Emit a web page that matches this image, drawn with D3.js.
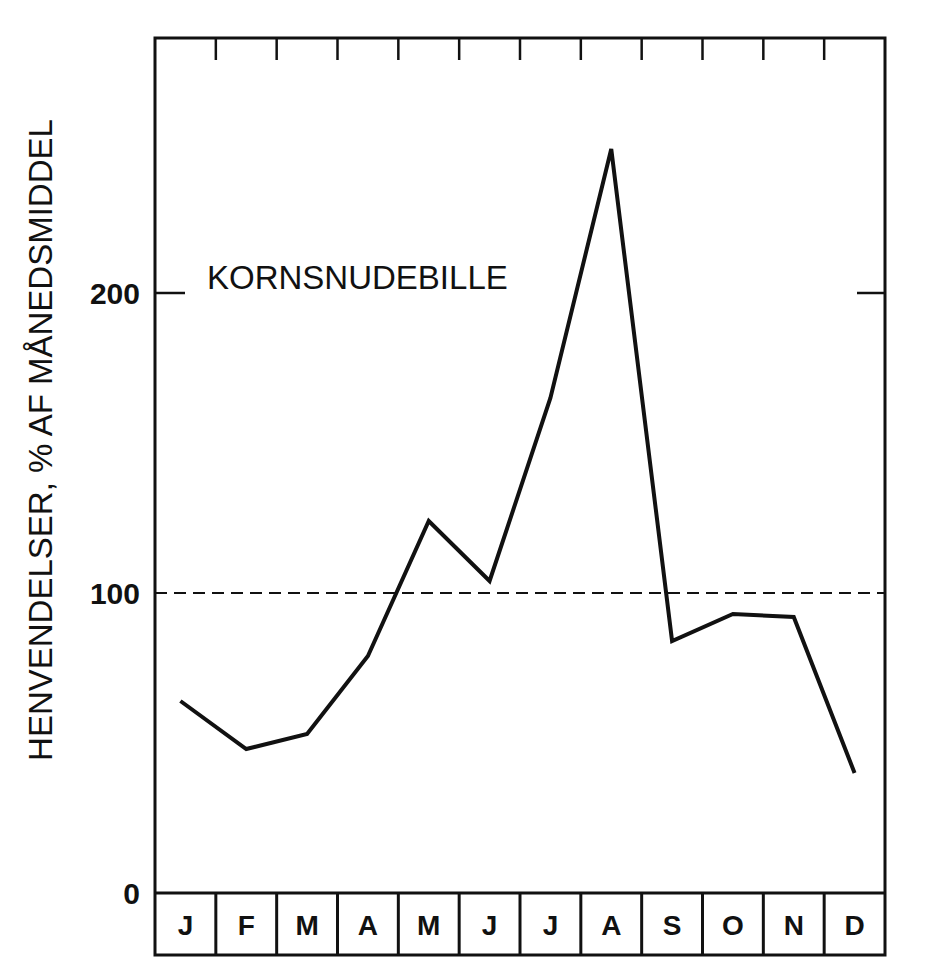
<!DOCTYPE html>
<html>
<head>
<script src="https://cdn.jsdelivr.net/npm/d3@7"></script>
<style>body{margin:0;background:#fff}</style>
</head>
<body>
<script>
let months = ["J","F","M","A","M","J","J","A","S","O","N","D"]
let values = [64, 48, 53, 79, 124, 104, 165, 248, 84, 93, 92, 40]
let yTicks = [0, 100, 200]
let label = "KORNSNUDEBILLE"
let yTitle = "HENVENDELSER, % AF MÅNEDSMIDDEL"

let w = 925, h = 980
let plotLeft = 155, plotRight = 885, plotTop = 38, plotBottom = 893, boxBottom = 955

let svg = d3.select("body").append("svg").attr("width", w).attr("height", h)
let x = d3.scaleBand().domain(d3.range(12)).range([plotLeft, plotRight])
let y = d3.scaleLinear().domain([0, 285]).range([plotBottom, plotTop])
let font = "Liberation Sans, Arial, sans-serif"

// frame
svg.append("rect").attr("x", plotLeft).attr("y", plotTop).attr("width", plotRight-plotLeft).attr("height", boxBottom-plotTop)
   .attr("fill","none").attr("stroke","#111").attr("stroke-width",3)
svg.append("line").attr("x1",plotLeft).attr("x2",plotRight).attr("y1",plotBottom).attr("y2",plotBottom)
   .attr("stroke","#111").attr("stroke-width",3)

// month cells and top ticks
for (let i = 1; i < 12; i++) {
    let xb = x(i)
    svg.append("line").attr("x1",xb).attr("x2",xb).attr("y1",plotBottom).attr("y2",boxBottom)
       .attr("stroke","#111").attr("stroke-width",3)
    svg.append("line").attr("x1",xb).attr("x2",xb).attr("y1",plotTop).attr("y2",plotTop+22)
       .attr("stroke","#111").attr("stroke-width",2.5)
}
svg.selectAll(".mlab").data(months).enter().append("text")
   .attr("x",(d,i)=>x(i)+x.bandwidth()/2).attr("y",(plotBottom+boxBottom)/2+11)
   .attr("text-anchor","middle").attr("font-family",font).attr("font-weight","bold")
   .attr("font-size",28).attr("fill","#111").text(d=>d)

// y ticks
yTicks.forEach(t=>{
    svg.append("text").attr("x",140).attr("y",y(t)+11).attr("text-anchor","end")
       .attr("font-family",font).attr("font-weight","bold").attr("font-size",30).attr("fill","#111").text(t)
})
svg.append("line").attr("x1",plotLeft).attr("x2",plotLeft+30).attr("y1",y(200)).attr("y2",y(200)).attr("stroke","#111").attr("stroke-width",2.5)
svg.append("line").attr("x1",plotRight-28).attr("x2",plotRight).attr("y1",y(200)).attr("y2",y(200)).attr("stroke","#111").attr("stroke-width",2.5)
svg.append("line").attr("x1",plotLeft).attr("x2",plotRight).attr("y1",y(100)).attr("y2",y(100))
   .attr("stroke","#111").attr("stroke-width",2).attr("stroke-dasharray","12,7")

// series
let line = d3.line().x((d,i)=>x(i)+x.bandwidth()/2 - (i===0?5:0)).y(d=>y(d))
svg.append("path").datum(values).attr("d",line).attr("fill","none")
   .attr("stroke","#111").attr("stroke-width",4).attr("stroke-linejoin","miter")

svg.append("text").attr("x",207).attr("y",y(200)-4).attr("font-family",font)
   .attr("font-size",33).attr("fill","#111").text(label)

svg.append("text").attr("transform","translate(52,440) rotate(-90)").attr("text-anchor","middle")
   .attr("font-family",font).attr("font-size",33).attr("fill","#111").text(yTitle)
</script>
</body>
</html>
